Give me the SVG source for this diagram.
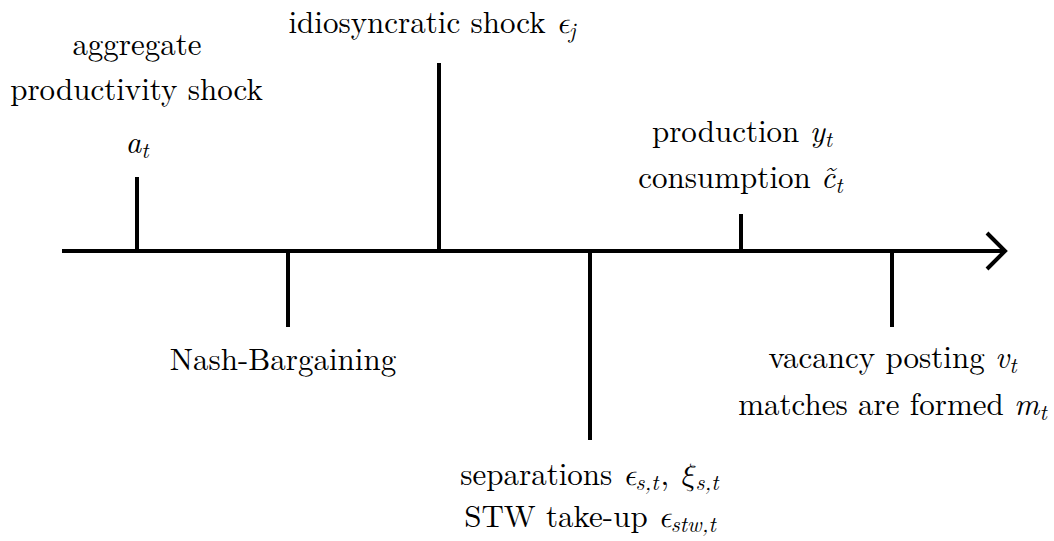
<svg xmlns="http://www.w3.org/2000/svg" width="1054" height="541" viewBox="0 0 1054 541">
<style>
.ln{stroke:#000;stroke-width:4;fill:none;stroke-linecap:butt}
.t{font-family:"Latin Modern Roman","Latin Modern Math","FreeSerif",serif;font-size:31px;fill:#000;text-anchor:middle}
.m{font-style:italic}
.s{font-size:22px;font-style:italic}
</style>
<rect width="1054" height="541" fill="#fff"/>
<g id="connectors">
<line class="ln" x1="62" y1="251" x2="1005" y2="251"/>
<polyline class="ln" points="987,233 1005,251 987,269" stroke-linejoin="miter"/>
<line class="ln" x1="137" y1="177" x2="137" y2="251"/>
<line class="ln" x1="288" y1="251" x2="288" y2="327"/>
<line class="ln" x1="439" y1="63" x2="439" y2="251"/>
<line class="ln" x1="590" y1="251" x2="590" y2="440"/>
<line class="ln" x1="741" y1="214" x2="741" y2="251"/>
<line class="ln" x1="892" y1="251" x2="892" y2="327"/>
</g>
<g id="node-aggregate">
<text class="t" x="137" y="55">aggregate</text>
<text class="t" x="136.5" y="100">productivity shock</text>
<text class="t" x="137" y="153"><tspan class="m">a</tspan><tspan class="s" dy="5">t</tspan></text>
</g>
<g id="node-idiosyncratic">
<text class="t" x="432" y="33">idiosyncratic shock <tspan class="m">ϵ</tspan><tspan class="s" dy="5">j</tspan></text>
</g>
<g id="node-production">
<text class="t" x="742" y="142">production <tspan class="m">y</tspan><tspan class="s" dy="5">t</tspan></text>
<text class="t" x="740.5" y="188">consumption <tspan class="m">c̃</tspan><tspan class="s" dy="5">t</tspan></text>
</g>
<g id="node-nash">
<text class="t" x="283" y="370">Nash-Bargaining</text>
</g>
<g id="node-separations">
<text class="t" x="589.5" y="485">separations <tspan class="m">ϵ</tspan><tspan class="s" dy="5">s,t</tspan><tspan dy="-5" dx="2">,</tspan><tspan dx="10" class="m">ξ</tspan><tspan class="s" dy="5">s,t</tspan></text>
<text class="t" x="590" y="527">STW take-up <tspan class="m">ϵ</tspan><tspan class="s" dy="5">stw,t</tspan></text>
</g>
<g id="node-vacancy">
<text class="t" x="892.5" y="368">vacancy posting <tspan class="m">v</tspan><tspan class="s" dy="5">t</tspan></text>
<text class="t" x="892.5" y="415">matches are formed <tspan class="m">m</tspan><tspan class="s" dy="5">t</tspan></text>
</g>
</svg>
